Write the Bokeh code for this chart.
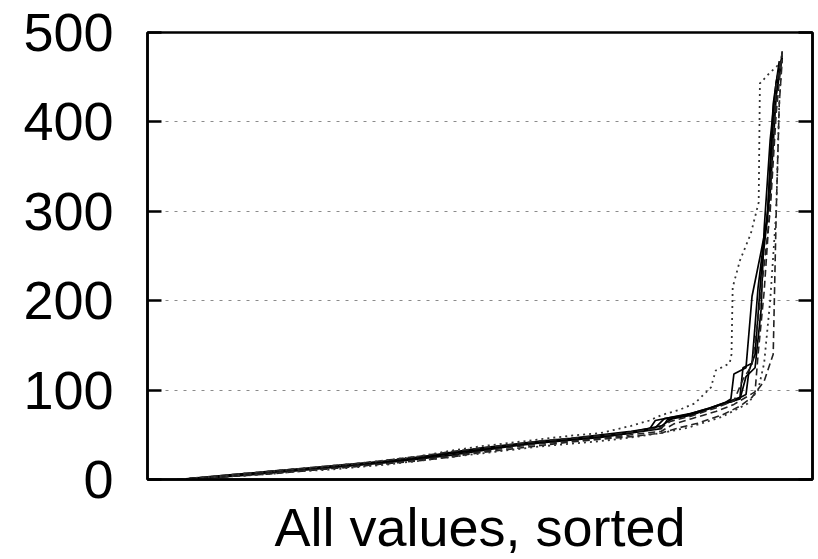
from bokeh.plotting import figure
from bokeh.models import Range1d, LinearAxis, FixedTicker
from bokeh.embed import file_html
from bokeh.resources import INLINE

# Sorted values of each run, position given as percent of the sorted list
run1_x = [0, 5, 10, 15, 20, 25, 30, 35, 40, 45, 50, 55, 60, 65, 70, 74, 78, 79, 82, 85, 88, 90.5, 91.5, 92, 94, 95, 96.5, 97.5, 98.5, 99.5]
run1_y = [0, 2, 5, 8, 11, 14, 17, 20, 24, 29, 34, 38, 42, 45, 48, 51, 56, 66, 70, 74, 80, 86, 90, 118, 125, 205, 255, 290, 420, 468]

run2_x = [0, 5, 10, 15, 20, 25, 30, 35, 40, 45, 50, 55, 60, 65, 70, 75, 79, 80.5, 84, 88, 91, 93, 93.5, 95, 96, 97, 98, 99, 100]
run2_y = [0, 3, 6, 9, 12, 15, 18, 21, 25, 30, 35, 39, 43, 46, 50, 54, 58, 68, 72, 80, 87, 92, 125, 130, 215, 270, 320, 430, 472]

run3_x = [0, 5, 10, 15, 20, 25, 30, 35, 40, 45, 50, 55, 60, 65, 70, 75, 80, 81, 85, 89, 92, 94, 94.5, 95.5, 96.5, 97.5, 98.5, 99.5]
run3_y = [0, 2, 4, 7, 10, 13, 16, 19, 23, 27, 32, 37, 41, 44, 47, 52, 57, 67, 72, 82, 88, 95, 122, 140, 230, 290, 400, 462]

run4_x = [0, 5, 10, 15, 20, 25, 30, 35, 40, 45, 50, 55, 60, 65, 70, 75, 80, 82, 86, 90, 93, 94, 95.5, 96.5, 97, 98, 99, 100]
run4_y = [0, 2, 5, 8, 11, 14, 17, 21, 25, 29, 33, 38, 42, 45, 49, 53, 60, 69, 75, 84, 90, 115, 125, 190, 280, 380, 445, 475]

run5_x = [0, 5, 10, 15, 20, 25, 30, 35, 40, 45, 50, 55, 60, 65, 70, 75, 80, 82, 85, 89, 92, 94, 95.5, 96, 97, 98, 99, 100]
run5_y = [0, 2, 4, 7, 10, 12, 15, 18, 22, 26, 31, 36, 40, 43, 46, 50, 54, 62, 68, 76, 84, 92, 98, 140, 210, 310, 440, 478]

run6_x = [0, 5, 10, 15, 20, 25, 30, 35, 40, 45, 50, 55, 60, 65, 70, 75, 80, 83, 86, 90, 93, 95, 97, 98.5, 99, 99.5, 100]
run6_y = [0, 2, 4, 6, 9, 12, 15, 18, 21, 25, 30, 34, 38, 42, 45, 48, 52, 58, 63, 72, 82, 92, 110, 140, 300, 420, 470]

run7_x = [0, 5, 10, 15, 20, 25, 30, 35, 40, 45, 50, 55, 60, 65, 70, 75, 80, 81.5, 85, 89, 92, 93.5, 95, 96, 97, 98, 99, 100]
run7_y = [0, 3, 6, 9, 12, 15, 18, 22, 26, 31, 35, 39, 43, 46, 49, 53, 58, 65, 71, 80, 88, 112, 128, 180, 240, 300, 410, 480]

run8_x = [0, 5, 10, 15, 20, 25, 30, 35, 40, 45, 50, 55, 60, 65, 70, 75, 78, 80, 83, 85.5, 88.2, 89, 91.3, 91.6, 91.8, 93, 94.8, 96.1, 96.3, 97.8, 99.7]
run8_y = [0, 3, 6, 9, 12, 15, 18, 22, 26, 32, 37, 41, 45, 49, 52, 60, 66, 72, 78, 85, 103, 122, 130, 140, 215, 245, 275, 310, 443, 454, 466]

run9_x = [0, 5, 10, 15, 20, 25, 30, 35, 40, 45, 50, 55, 60, 65, 70, 75, 80, 84.4, 90, 94.3, 96, 97, 98, 99, 99.5, 100]
run9_y = [0, 2, 4, 6, 9, 11, 14, 17, 21, 25, 29, 33, 37, 40, 43, 47, 52, 58, 70, 85, 100, 130, 200, 300, 420, 480]

y_ticks = [0, 100, 200, 300, 400, 500]
x_title = "All values, sorted"

FONT = "Liberation Sans"

p = figure(width=818, height=559, output_backend="svg", toolbar_location=None,
           x_range=Range1d(-5, 105), y_range=Range1d(0, 500),
           min_border_left=147, min_border_right=6, min_border_top=32, min_border_bottom=80)

p.background_fill_color = "white"
p.border_fill_color = "white"
p.outline_line_color = "black"
p.outline_line_width = 2.5

# grid: dotted horizontal lines only
p.xgrid.visible = False
p.ygrid.ticker = FixedTicker(ticks=y_ticks)
p.ygrid.grid_line_color = "#8a8a8a"
p.ygrid.grid_line_dash = "3 6"
p.ygrid.grid_line_width = 1

# left axis
ya = p.yaxis[0]
ya.ticker = FixedTicker(ticks=y_ticks)
ya.major_tick_in = 14
ya.major_tick_out = 0
ya.minor_tick_in = 0
ya.minor_tick_out = 0
ya.major_tick_line_width = 2.5
ya.axis_line_width = 2.5
ya.major_label_standoff = 34
ya.major_label_text_font = FONT
ya.major_label_text_font_size = "54px"
ya.major_label_text_color = "black"

# right axis: inward ticks, blank labels
ra = LinearAxis(ticker=FixedTicker(ticks=y_ticks))
ra.major_tick_in = 14
ra.major_tick_out = 0
ra.minor_tick_in = 0
ra.minor_tick_out = 0
ra.major_tick_line_width = 2.5
ra.axis_line_width = 2.5
ra.major_label_overrides = {t: "" for t in y_ticks}
ra.major_label_standoff = 0
p.add_layout(ra, "right")

# bottom axis: title only
xa = p.xaxis[0]
xa.ticker = FixedTicker(ticks=[])
xa.major_tick_in = 0
xa.major_tick_out = 0
xa.minor_tick_in = 0
xa.minor_tick_out = 0
xa.major_label_standoff = 0
xa.axis_line_width = 2.5
xa.axis_label = x_title
xa.axis_label_text_font = FONT
xa.axis_label_text_font_size = "54px"
xa.axis_label_text_font_style = "normal"
xa.axis_label_text_color = "black"
xa.axis_label_standoff = 17

solid = dict(line_color="black", line_width=1.7)
dashed = dict(line_color="#222222", line_width=1.6, line_dash="7 4")
dotted = dict(line_color="#333333", line_width=1.8, line_dash="2 4")

p.line(run1_x, run1_y, **solid)
p.line(run2_x, run2_y, **solid)
p.line(run3_x, run3_y, **solid)
p.line(run4_x, run4_y, **solid)
p.line(run5_x, run5_y, **dashed)
p.line(run6_x, run6_y, **dashed)
p.line(run7_x, run7_y, **dashed)
p.line(run8_x, run8_y, **dotted)
p.line(run9_x, run9_y, **dotted)

open("out.html", "w").write(file_html(p, INLINE))
